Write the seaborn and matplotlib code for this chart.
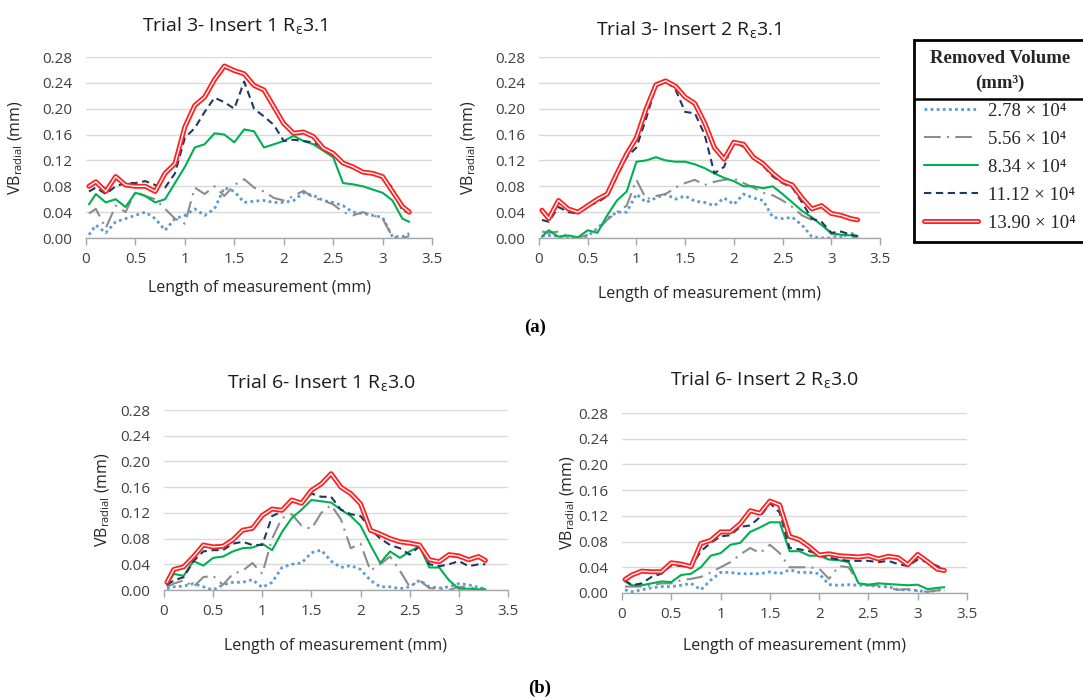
import matplotlib
matplotlib.use("Agg")
import matplotlib.pyplot as plt
import matplotlib.patheffects as pe
import seaborn as sns
from matplotlib.font_manager import FontProperties
from matplotlib.lines import Line2D

# ---------------- data ----------------
X = [0.03, 0.1, 0.2, 0.3, 0.4, 0.5, 0.6, 0.7, 0.8, 0.9, 1.0, 1.1, 1.2, 1.3, 1.4, 1.5, 1.6,
     1.7, 1.8, 1.9, 2.0, 2.1, 2.2, 2.3, 2.4, 2.5, 2.6, 2.7, 2.8, 2.9, 3.0, 3.1, 3.2, 3.27]

# Trial 3 - Insert 1
T3I1_V278 = [0.005,0.020,0.008,0.025,0.030,0.035,0.040,0.030,0.012,0.030, 0.035,0.045,0.035,0.045,0.078,0.072,0.055,0.057,0.058,0.055, 0.055,0.058,0.070,0.066,0.058,0.055,0.050,0.040,0.038,0.035, 0.032,0.002,0.002,0.007]
T3I1_V556 = [0.038,0.045,0.015,0.050,0.040,0.072,0.065,0.060,0.045,0.030, 0.022,0.078,0.068,0.080,0.065,0.082,0.091,0.078,0.072,0.062, 0.058,0.065,0.073,0.062,0.058,0.052,0.040,0.035,0.040,0.035, 0.030,0.002,0.000,0.003]
T3I1_V834 = [0.052,0.068,0.055,0.060,0.048,0.070,0.065,0.055,0.060,0.085, 0.110,0.140,0.145,0.162,0.160,0.148,0.168,0.165,0.140,0.145, 0.150,0.158,0.150,0.145,0.135,0.125,0.085,0.083,0.080,0.075, 0.070,0.058,0.030,0.025]
T3I1_V1112 = [0.072,0.078,0.068,0.080,0.085,0.085,0.088,0.082,0.078,0.100, 0.155,0.170,0.195,0.217,0.210,0.200,0.242,0.200,0.188,0.175, 0.150,0.152,0.150,0.148,0.140,0.130,0.115,0.108,0.102,0.100, 0.093,0.078,0.042,0.040]
T3I1_V1390 = [0.080,0.087,0.072,0.095,0.082,0.080,0.080,0.072,0.100,0.115, 0.172,0.205,0.218,0.245,0.266,0.259,0.254,0.236,0.229,0.203, 0.177,0.162,0.164,0.157,0.139,0.131,0.116,0.110,0.102,0.100, 0.095,0.072,0.049,0.040]

# Trial 3 - Insert 2
T3I2_V278 = [0.003,0.004,0.003,0.000,0.000,0.003,0.015,0.030,0.040,0.040, 0.068,0.055,0.062,0.068,0.060,0.065,0.057,0.055,0.050,0.062, 0.052,0.068,0.062,0.058,0.032,0.030,0.032,0.020,0.002,0.000, 0.000,0.002,0.008,0.002]
T3I2_V556 = [0.010,0.008,0.010,0.002,0.000,0.005,0.012,0.028,0.040,0.050, 0.090,0.060,0.065,0.068,0.078,0.085,0.090,0.082,0.087,0.090, 0.092,0.085,0.078,0.070,0.066,0.058,0.048,0.035,0.028,0.022, 0.006,0.004,0.002,0.001]
T3I2_V834 = [0.002,0.012,0.002,0.004,0.001,0.012,0.008,0.035,0.058,0.072, 0.118,0.120,0.125,0.120,0.118,0.118,0.114,0.108,0.100,0.093, 0.088,0.080,0.080,0.077,0.080,0.068,0.055,0.042,0.032,0.020, 0.008,0.005,0.004,0.003]
T3I2_V1112 = [0.028,0.025,0.048,0.040,0.038,0.050,0.055,0.065,0.095,0.125, 0.140,0.185,0.235,0.243,0.230,0.195,0.193,0.160,0.100,0.110, 0.152,0.140,0.125,0.112,0.095,0.085,0.078,0.055,0.030,0.025, 0.008,0.010,0.005,0.003]
T3I2_V1390 = [0.043,0.030,0.058,0.045,0.040,0.050,0.060,0.068,0.100,0.130, 0.155,0.200,0.237,0.243,0.235,0.218,0.208,0.178,0.140,0.122, 0.148,0.145,0.125,0.115,0.100,0.088,0.082,0.062,0.045,0.050, 0.038,0.035,0.030,0.028]

# Trial 6 - Insert 1
T6I1_V278 = [0.002,0.005,0.006,0.010,0.005,0.000,0.008,0.012,0.012,0.016, 0.004,0.012,0.035,0.040,0.042,0.058,0.062,0.045,0.035,0.038, 0.032,0.015,0.005,0.005,0.002,0.005,0.015,0.005,0.003,0.005, 0.010,0.008,0.004,0.002]
T6I1_V556 = [0.005,0.010,0.015,0.005,0.020,0.022,0.008,0.025,0.030,0.042, 0.025,0.080,0.112,0.118,0.100,0.095,0.120,0.132,0.110,0.065, 0.072,0.030,0.040,0.052,0.030,0.005,0.015,0.003,0.002,0.000, 0.005,0.004,0.003,0.001]
T6I1_V834 = [0.008,0.025,0.022,0.045,0.038,0.050,0.052,0.060,0.065,0.066, 0.072,0.062,0.090,0.112,0.125,0.140,0.138,0.136,0.125,0.115, 0.100,0.070,0.042,0.060,0.050,0.060,0.068,0.035,0.035,0.015, 0.002,0.002,0.001,0.001]
T6I1_V1112 = [0.008,0.015,0.020,0.045,0.060,0.062,0.062,0.072,0.075,0.070, 0.070,0.115,0.122,0.140,0.135,0.150,0.145,0.145,0.125,0.118, 0.115,0.095,0.080,0.070,0.065,0.055,0.068,0.040,0.037,0.040, 0.045,0.037,0.040,0.040]
T6I1_V1390 = [0.012,0.032,0.036,0.052,0.070,0.067,0.068,0.078,0.093,0.096, 0.116,0.126,0.124,0.140,0.135,0.155,0.165,0.181,0.160,0.150, 0.134,0.093,0.087,0.080,0.075,0.073,0.070,0.047,0.044,0.055, 0.053,0.047,0.052,0.046]

# Trial 6 - Insert 2
T6I2_V278 = [0.005,0.002,0.005,0.008,0.010,0.010,0.012,0.015,0.005,0.020, 0.032,0.032,0.030,0.030,0.030,0.033,0.030,0.036,0.032,0.032, 0.030,0.013,0.012,0.013,0.012,0.012,0.010,0.010,0.005,0.005, 0.004,0.001,0.005,0.004]
T6I2_V556 = [0.010,0.010,0.010,0.012,0.015,0.015,0.020,0.022,0.025,0.032, 0.040,0.048,0.060,0.070,0.062,0.075,0.062,0.040,0.040,0.040, 0.038,0.022,0.042,0.040,0.015,0.012,0.012,0.008,0.005,0.006, 0.003,0.002,0.004,0.005]
T6I2_V834 = [0.018,0.012,0.012,0.015,0.018,0.017,0.028,0.030,0.040,0.058, 0.062,0.075,0.078,0.095,0.102,0.110,0.110,0.065,0.065,0.058, 0.058,0.052,0.051,0.048,0.015,0.013,0.015,0.014,0.013,0.012, 0.013,0.006,0.008,0.009]
T6I2_V1112 = [0.020,0.012,0.015,0.025,0.030,0.043,0.042,0.040,0.065,0.078, 0.088,0.090,0.103,0.105,0.118,0.140,0.125,0.070,0.068,0.065, 0.060,0.055,0.052,0.050,0.050,0.050,0.048,0.050,0.045,0.042, 0.052,0.048,0.042,0.035]
T6I2_V1390 = [0.021,0.028,0.034,0.033,0.033,0.047,0.045,0.041,0.077,0.082, 0.095,0.095,0.108,0.128,0.124,0.143,0.137,0.088,0.083,0.072, 0.059,0.061,0.058,0.057,0.056,0.058,0.053,0.057,0.055,0.044, 0.060,0.049,0.037,0.035]

TITLES = ["Trial 3- Insert 1 R$_{\\mathregular{ε}}$3.1", "Trial 3- Insert 2 R$_{\\mathregular{ε}}$3.1",
          "Trial 6- Insert 1 R$_{\\mathregular{ε}}$3.0", "Trial 6- Insert 2 R$_{\\mathregular{ε}}$3.0"]
LEGEND_LABELS = ["2.78 × 10⁴", "5.56 × 10⁴", "8.34 × 10⁴", "11.12 × 10⁴", "13.90 × 10⁴"]
XTICKS = [0, 0.5, 1, 1.5, 2, 2.5, 3, 3.5]
XTICKLABELS = ["0", "0.5", "1", "1.5", "2", "2.5", "3", "3.5"]
YTICKS = [0.00, 0.04, 0.08, 0.12, 0.16, 0.20, 0.24, 0.28]
YTICKLABELS = ["0.00", "0.04", "0.08", "0.12", "0.16", "0.20", "0.24", "0.28"]

PANELS = [
    [T3I1_V278, T3I1_V556, T3I1_V834, T3I1_V1112, T3I1_V1390],
    [T3I2_V278, T3I2_V556, T3I2_V834, T3I2_V1112, T3I2_V1390],
    [T6I1_V278, T6I1_V556, T6I1_V834, T6I1_V1112, T6I1_V1390],
    [T6I2_V278, T6I2_V556, T6I2_V834, T6I2_V1112, T6I2_V1390],
]

# ---------------- style ----------------
sns.set_theme(style="white")
plt.rcParams["font.family"] = ["Open Sans", "DejaVu Sans"]
plt.rcParams["mathtext.fontset"] = "custom"
plt.rcParams["mathtext.rm"] = "Open Sans"
plt.rcParams["mathtext.it"] = "Open Sans:italic"
plt.rcParams["mathtext.bf"] = "Open Sans:bold"

W, H = 1083, 700
fig = plt.figure(figsize=(W / 100, H / 100), dpi=100)
fig.patch.set_facecolor("white")

def px_axes(left, top, right, bottom):
    return fig.add_axes([left / W, 1 - bottom / H, (right - left) / W, (bottom - top) / H])

axes = [px_axes(86, 57, 432, 238), px_axes(539, 57, 880, 238),
        px_axes(164, 410, 508, 590), px_axes(622, 413, 967, 593)]

title_x = [0.428, 0.44, 0.456, 0.412]
title_pad = [19, 15.5, 15.5, 20]
ylab_x = [-0.176, -0.179, -0.151, -0.13]
xlab_y = [-0.232, -0.265, -0.266, -0.25]

RED = "#ff2020"
styles = [
    dict(color="#5b9bd5", linestyle=(0, (1, 1.2)), lw=2.0),
    dict(color="#8c8c8c", linestyle=(0, (8, 3, 1, 3)), lw=1.5),
    dict(color="#00b050", linestyle="-", lw=1.5),
    dict(color="#1f3864", linestyle=(0, (3.5, 2.2)), lw=1.5),
    dict(color="white", linestyle="-", lw=1.0,
         path_effects=[pe.Stroke(linewidth=3.6, foreground=RED), pe.Normal()]),
]

TICK_COLOR = "#404040"
handles = None
for i, ax in enumerate(axes):
    series = PANELS[i]
    h = []
    for j, vals in enumerate(series):
        sns.lineplot(x=X, y=vals, ax=ax, **styles[j])
        h.append(ax.lines[-1])
    if handles is None:
        handles = h
    ax.set_xlim(0, 3.5)
    ax.set_ylim(0, 0.28)
    ax.set_xticks(XTICKS)
    ax.set_xticklabels(XTICKLABELS)
    ax.set_yticks(YTICKS)
    ax.set_yticklabels(YTICKLABELS)
    ax.grid(axis="y", color="#d9d9d9", lw=1.0)
    ax.grid(axis="x", visible=False)
    ax.set_axisbelow(True)
    for s in ["top", "right", "left"]:
        ax.spines[s].set_visible(False)
    ax.spines["bottom"].set_color("#a6a6a6")
    ax.spines["bottom"].set_linewidth(1.0)
    ax.tick_params(axis="x", bottom=True, length=5, width=1, color="#a6a6a6", pad=5,
                   labelsize=11, labelcolor=TICK_COLOR)
    ax.tick_params(axis="y", left=False, length=0, pad=10, labelsize=11, labelcolor=TICK_COLOR)
    ax.set_title(TITLES[i], x=title_x[i], pad=title_pad[i], fontsize=14, color="#1a1a1a")
    ax.set_xlabel("Length of measurement (mm)", fontsize=11.5, color="#262626", va="top")
    ax.xaxis.set_label_coords(0.5, xlab_y[i])
    ax.set_ylabel("VB$_{\\mathregular{radial}}$ (mm)", fontsize=11.5, color="#262626")
    ax.yaxis.set_label_coords(ylab_x[i], 0.5)

# ---------------- legend ----------------
serif = ["Liberation Serif", "DejaVu Serif"]
leg = fig.legend(handles, LEGEND_LABELS, loc="upper left",
                 bbox_to_anchor=(914 / W, 1 - 40 / H), borderaxespad=0,
                 frameon=True, fancybox=False, framealpha=1, edgecolor="black",
                 title="Removed Volume\n(mm³)",
                 title_fontproperties=FontProperties(family=serif, weight="bold", size=13.5),
                 prop=FontProperties(family=serif, size=13.5),
                 handlelength=2.85, handletextpad=0.55, labelspacing=0.58, borderpad=0.55)
leg.get_frame().set_linewidth(2.0)
leg.get_title().set_multialignment("center")
leg.get_title().set_linespacing(1.55)

fig.canvas.draw()
fb = leg.get_frame().get_window_extent()
tb = leg.get_title().get_window_extent()
sep = Line2D([fb.x0 / W, fb.x1 / W], [(tb.y0 - 7) / H, (tb.y0 - 7) / H],
             transform=fig.transFigure, color="black", lw=1.8, zorder=20)
fig.add_artist(sep)

# panel labels
fig.text(535 / W, 1 - 327 / H, "(a)", ha="center", va="center", fontsize=13.5,
         family=serif, weight="bold", color="black")
fig.text(540 / W, 1 - 688 / H, "(b)", ha="center", va="center", fontsize=13.5,
         family=serif, weight="bold", color="black")

fig.savefig("out.png", dpi=100, facecolor="white")
